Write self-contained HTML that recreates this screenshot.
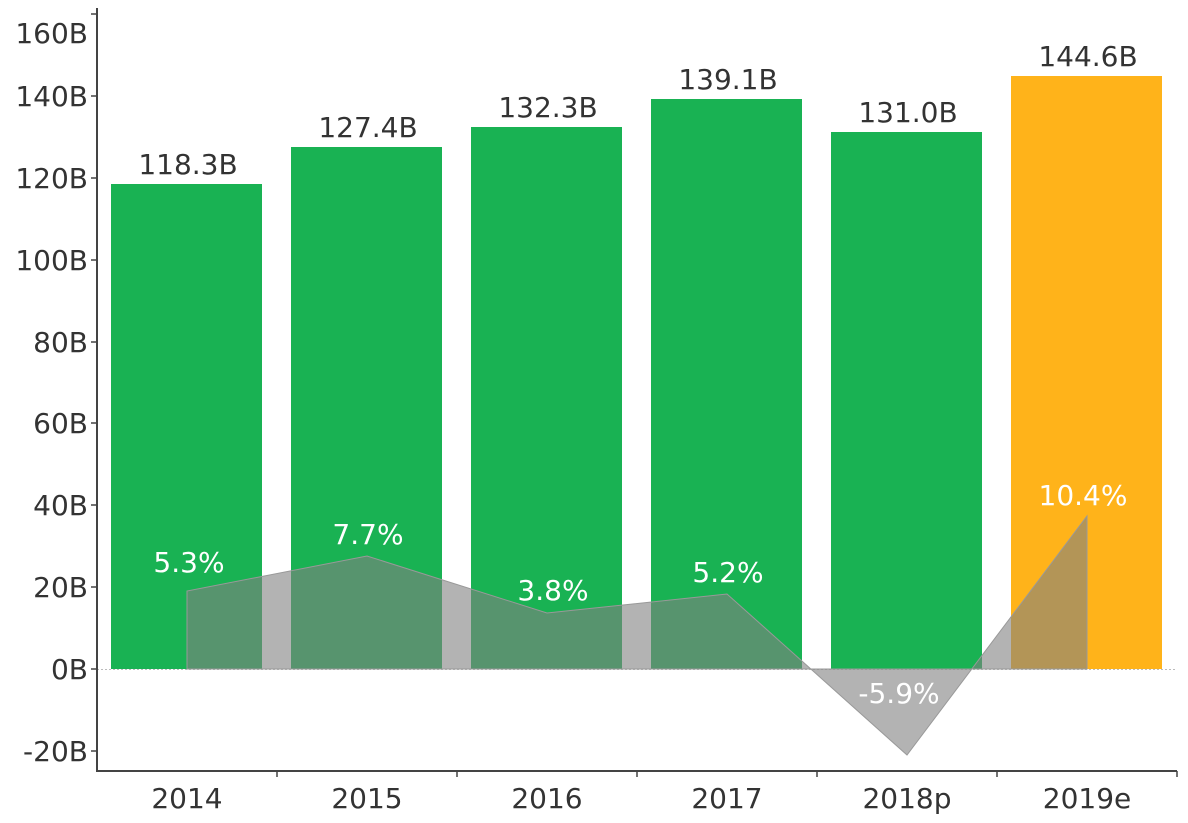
<!DOCTYPE html>
<html><head><style>body{margin:0;background:#fff}svg{display:block}text{font-family:"DejaVu Sans","Liberation Sans",sans-serif}</style></head><body>
<svg width="1188" height="823" viewBox="0 0 1188 823">
<g fill="#19b253">
<rect x="111" y="184" width="151" height="485"/>
<rect x="291" y="147" width="151" height="522"/>
<rect x="471" y="127" width="151" height="542"/>
<rect x="651" y="99" width="151" height="570"/>
<rect x="831" y="132" width="151" height="537"/>
</g>
<rect x="1011" y="76" width="151" height="593" fill="#ffb31a"/>
<line x1="97" y1="669.5" x2="1177" y2="669.5" stroke="#bbb" stroke-dasharray="2,2"/>
<polygon points="187,669 187,591 367,556 547,613 727,594 907,755 1087,516 1087,669" fill="rgba(128,128,128,0.6)" stroke="#999" stroke-width="1"/>
<g font-size="28" fill="#333" text-anchor="middle">
<text x="188" y="174">118.3B</text><text x="368" y="137">127.4B</text><text x="548" y="117">132.3B</text><text x="728" y="89">139.1B</text><text x="908" y="122">131.0B</text><text x="1088" y="66">144.6B</text>
</g>
<g font-size="28" fill="#fff" text-anchor="middle">
<text x="189" y="572">5.3%</text><text x="368" y="544">7.7%</text><text x="553" y="600">3.8%</text><text x="728" y="582">5.2%</text><text x="899" y="703">-5.9%</text><text x="1083" y="505">10.4%</text>
</g>
<g stroke="#444" stroke-width="2" fill="none">
<line x1="97" y1="8" x2="97" y2="771"/><line x1="96" y1="771" x2="1177" y2="771"/>
</g>
<g stroke="#444" stroke-width="1.5">
<line x1="91" y1="14" x2="97" y2="14"/><line x1="91" y1="96" x2="97" y2="96"/><line x1="91" y1="178" x2="97" y2="178"/><line x1="91" y1="260" x2="97" y2="260"/><line x1="91" y1="342" x2="97" y2="342"/><line x1="91" y1="423" x2="97" y2="423"/><line x1="91" y1="505" x2="97" y2="505"/><line x1="91" y1="587" x2="97" y2="587"/><line x1="91" y1="669" x2="97" y2="669"/><line x1="91" y1="751" x2="97" y2="751"/>
<line x1="277" y1="771" x2="277" y2="777"/><line x1="457" y1="771" x2="457" y2="777"/><line x1="637" y1="771" x2="637" y2="777"/><line x1="817" y1="771" x2="817" y2="777"/><line x1="997" y1="771" x2="997" y2="777"/><line x1="1177" y1="771" x2="1177" y2="777"/>
</g>
<g font-size="28" fill="#333" text-anchor="end">
<text x="88" y="43">160B</text><text x="88" y="106">140B</text><text x="88" y="188">120B</text><text x="88" y="270">100B</text><text x="88" y="352">80B</text><text x="88" y="433">60B</text><text x="88" y="515">40B</text><text x="88" y="597">20B</text><text x="88" y="679">0B</text><text x="88" y="761">-20B</text>
</g>
<g font-size="28" fill="#333" text-anchor="middle">
<text x="187" y="808">2014</text><text x="367" y="808">2015</text><text x="547" y="808">2016</text><text x="727" y="808">2017</text><text x="907" y="808">2018p</text><text x="1087" y="808">2019e</text>
</g>
</svg>
</body></html>
